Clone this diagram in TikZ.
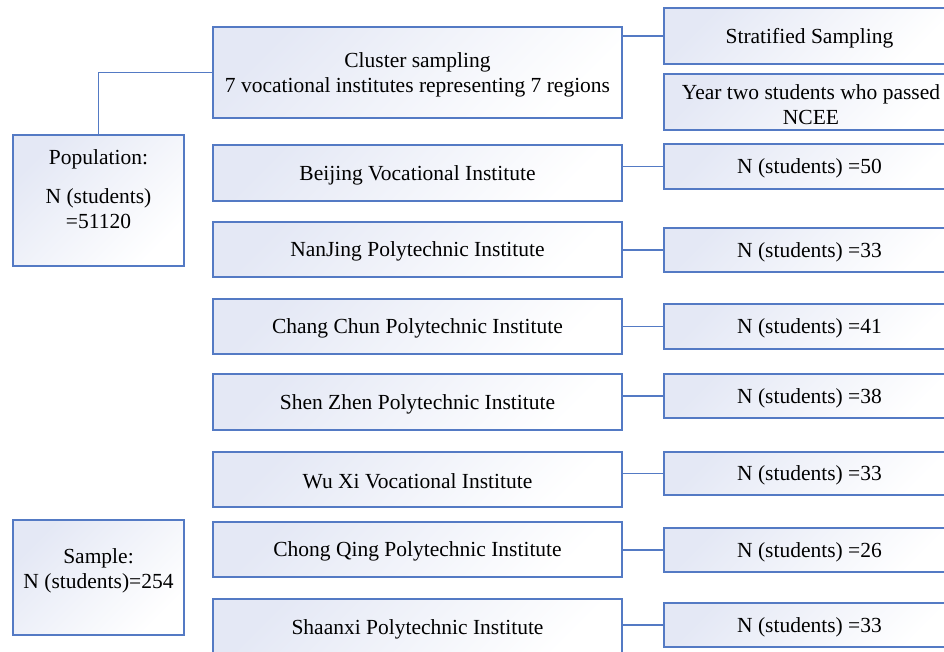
\documentclass[tikz,border=0pt]{standalone}
\usepackage{fontspec}
\setmainfont{Liberation Serif}
\definecolor{linec}{RGB}{84,122,196}
\definecolor{fillc}{RGB}{228,232,245}
\begin{document}
\begin{tikzpicture}[x=1pt,y=-1pt,
  box/.style={draw=linec, line width=1.3pt, top color=fillc, bottom color=white, shading angle=45, inner sep=0pt},
  midbox/.style={box, minimum width=409pt},
  rbox/.style={box, minimum width=291pt},
  lbox/.style={box, minimum width=171pt},
  txt/.style={font=\fontsize{21.5}{25}\selectfont, align=center, inner sep=0pt, yshift=-2pt},
  conn/.style={draw=linec, line width=1.5pt}]
\clip (0,0) rectangle (944,652);
% left boxes
\node[lbox, minimum height=131pt] (pop) at (98.5,200.5) {};
\node[txt] (poptitle) at (98.5,157) {Population:};
\node[txt] (popn) at (98.5,206.5) {N (students)\\=51120};
\node[lbox, minimum height=115pt] (sample) at (98.5,577.5) {};
\node[txt] (sampletext) at (98.5,568.5) {Sample:\\N (students)=254};
% middle column
\node[midbox, minimum height=91pt] (cluster) at (417.5,72.5) {};
\node[txt] at (cluster.center) {Cluster sampling\\7 vocational institutes representing 7 regions};
\node[midbox, minimum height=56pt] (bj) at (417.5,173) {};
\node[txt] at (bj.center) {Beijing Vocational Institute};
\node[midbox, minimum height=55pt] (nj) at (417.5,249.5) {};
\node[txt] at (nj.center) {NanJing Polytechnic Institute};
\node[midbox, minimum height=55pt] (cc) at (417.5,326.5) {};
\node[txt] at (cc.center) {Chang Chun Polytechnic Institute};
\node[midbox, minimum height=56pt] (sz) at (417.5,402) {};
\node[txt] at (sz.center) {Shen Zhen Polytechnic Institute};
\node[midbox, minimum height=55pt] (wx) at (417.5,479.5) {};
\node[txt] at (wx.center) {Wu Xi Vocational Institute};
\node[midbox, minimum height=55pt] (cq) at (417.5,549.5) {};
\node[txt] at (cq.center) {Chong Qing Polytechnic Institute};
\node[midbox, minimum height=56pt] (sx) at (417.5,627) {};
\node[txt] at (417.5,627) {Shaanxi Polytechnic Institute};
% right column
\node[rbox, minimum height=56pt] (strat) at (809.5,36) {};
\node[txt] at (strat.center) {Stratified Sampling};
\node[rbox, minimum height=56pt] (year) at (809.5,102) {};
\node[txt] at (811,102.5) {Year two students who passed\\NCEE};
\node[rbox, minimum height=45pt] (r1) at (809.5,166.5) {};
\node[txt] at (r1.center) {N (students) =50};
\node[rbox, minimum height=44pt] (r2) at (809.5,250) {};
\node[txt] at (r2.center) {N (students) =33};
\node[rbox, minimum height=45pt] (r3) at (809.5,326.5) {};
\node[txt] at (r3.center) {N (students) =41};
\node[rbox, minimum height=44pt] (r4) at (809.5,396) {};
\node[txt] at (r4.center) {N (students) =38};
\node[rbox, minimum height=43pt] (r5) at (809.5,473.5) {};
\node[txt] at (r5.center) {N (students) =33};
\node[rbox, minimum height=44pt] (r6) at (809.5,550) {};
\node[txt] at (r6.center) {N (students) =26};
\node[rbox, minimum height=44pt] (r7) at (809.5,625) {};
\node[txt] at (r7.center) {N (students) =33};
% connectors
\draw[conn] (pop.north) |- (cluster.west);
\draw[conn] (strat.west) -- (strat.west -| cluster.east);
\draw[conn] (r1.west) -- (r1.west -| bj.east);
\draw[conn] (r2.west) -- (r2.west -| nj.east);
\draw[conn] (r3.west) -- (r3.west -| cc.east);
\draw[conn] (r4.west) -- (r4.west -| sz.east);
\draw[conn] (r5.west) -- (r5.west -| wx.east);
\draw[conn] (r6.west) -- (r6.west -| cq.east);
\draw[conn] (r7.west) -- (r7.west -| sx.east);
\end{tikzpicture}
\end{document}
